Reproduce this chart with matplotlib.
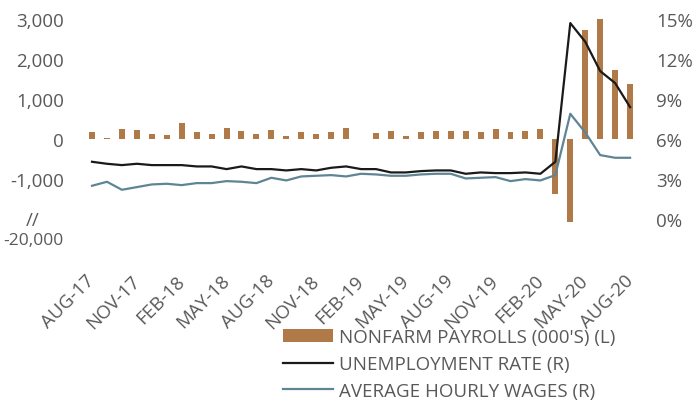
import pandas as pd
import numpy as np
import matplotlib
matplotlib.use('Agg')
import matplotlib.pyplot as plt

# monthly data, Aug 2017 .. Aug 2020
months = pd.date_range('2017-08-01', periods=37, freq='MS').strftime('%b-%y').str.upper().tolist()

# nonfarm payrolls, thousands (left axis)
payrolls = [175, 25, 265, 225, 125, 115, 400, 175, 135, 275, 215, 135, 235, 75, 190, 135, 185,
            270, 15, 145, 205, 75, 185, 195, 205, 205, 185, 265, 185,
            215, 250, -1375, -20790, 2730, 4780, 1735, 1375]

# unemployment rate, % (right axis)
unemployment = [4.3, 4.15, 4.05, 4.15, 4.05, 4.05, 4.05, 3.95, 3.95, 3.75, 3.95, 3.75, 3.75, 3.65, 3.75, 3.65, 3.85,
                3.95, 3.75, 3.75, 3.5, 3.5, 3.6, 3.65, 3.65, 3.4, 3.5, 3.45, 3.45,
                3.5, 3.4, 4.3, 14.7, 13.3, 11.1, 10.2, 8.4]

# average hourly wages, % y/y (right axis)
wages = [2.5, 2.8, 2.2, 2.4, 2.6, 2.65, 2.55, 2.7, 2.7, 2.85, 2.8, 2.7, 3.1, 2.9, 3.2, 3.25, 3.3,
         3.2, 3.4, 3.35, 3.25, 3.25, 3.35, 3.4, 3.4, 3.05, 3.1, 3.15, 2.85,
         3.0, 2.9, 3.3, 7.9, 6.5, 4.8, 4.6, 4.6]

bar_color = '#AF7A47'
ur_color = '#1A1A1A'
wage_color = '#5F8595'
txt_color = '#595959'
fs = 13.5

plt.rcParams['font.family'] = ['Open Sans', 'DejaVu Sans']

fig = plt.figure(figsize=(6.97, 4.02), dpi=100)
ax = fig.add_axes([0.117, 0.445, 0.802, 0.505])
ax2 = ax.twinx()

x = np.arange(len(months))
ax.bar(x, payrolls, width=0.4, color=bar_color, label="NONFARM PAYROLLS (000'S) (L)")
ax2.plot(x, unemployment, color=ur_color, lw=1.6, label='UNEMPLOYMENT RATE (R)')
ax2.plot(x, wages, color=wage_color, lw=1.6, label='AVERAGE HOURLY WAGES (R)')

ax.set_xlim(-0.7, 36.7)
ax.set_ylim(-2075, 3000)
ax2.set_ylim(-0.225, 15)

ax.set_yticks([3000, 2000, 1000, 0, -1000])
ax.set_yticklabels(['3,000', '2,000', '1,000', '0', '-1,000'])
ax2.set_yticks([0, 3, 6, 9, 12, 15])
ax2.set_yticklabels(['0%', '3%', '6%', '9%', '12%', '15%'])

ax.set_xticks(x[::3])
ax.set_xticklabels(months[::3], rotation=45, ha='right', va='center', rotation_mode='anchor')

for a in (ax, ax2):
    for s in a.spines.values():
        s.set_visible(False)
    a.tick_params(length=0, labelsize=fs, labelcolor=txt_color)
ax.tick_params(axis='y', pad=12.5)
ax.tick_params(axis='x', pad=40)
ax2.tick_params(axis='y', pad=11)

# broken axis marker for the April 2020 bar
ax.text(-0.087, 0.01, '//', transform=ax.transAxes, ha='center', va='center',
        fontsize=fs, color=txt_color)
ax.text(-0.033, -0.088, '-20,000', transform=ax.transAxes, ha='right', va='center',
        fontsize=12.5, color=txt_color)

h1, l1 = ax.get_legend_handles_labels()
h2, l2 = ax2.get_legend_handles_labels()
fig.legend(h1 + h2, l1 + l2, loc='upper left', bbox_to_anchor=(274 / 697, 1 - 320 / 402),
           frameon=False, fontsize=13.5, labelcolor=txt_color, handlelength=2.67,
           handletextpad=0.32, labelspacing=0.47, borderpad=0)

fig.savefig('out.png', dpi=100)
